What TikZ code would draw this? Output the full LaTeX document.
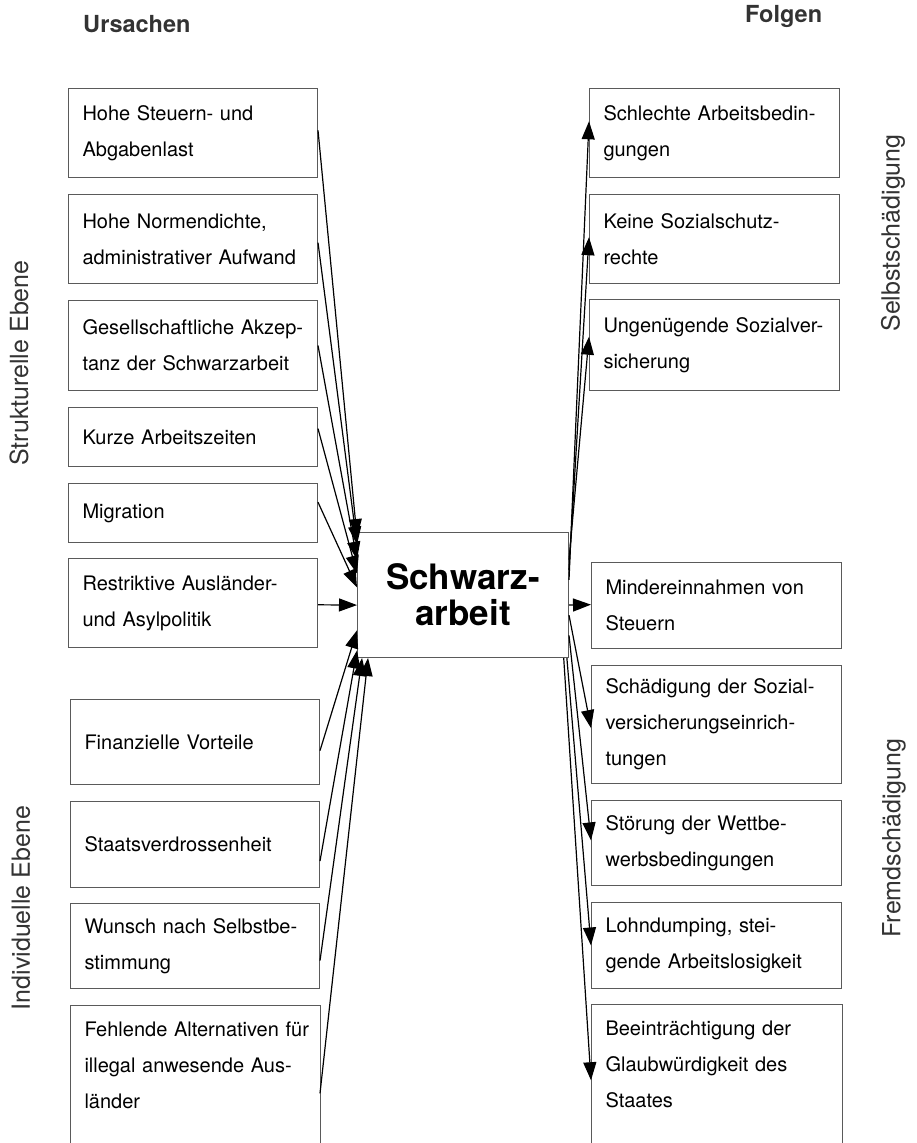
\documentclass[tikz,border=0pt]{standalone}
\usepackage{fontspec}
\setmainfont{TeX Gyre Heros}
\usetikzlibrary{arrows.meta,calc}
\definecolor{boxgray}{HTML}{5A5A5A}
\definecolor{labelgray}{HTML}{333333}
\begin{document}
\begin{tikzpicture}[x=1pt,y=-1pt,
  box/.style={draw=boxgray,line width=1pt,rectangle,anchor=north west,
    inner xsep=14pt,inner ysep=0pt,align=left,
    font=\fontsize{20}{36}\selectfont,text=black},
  lbox/.style={box,text width=221pt,minimum height=#1},
  rbox/.style={box,text width=222pt,minimum height=#1},
  openbox/.style={box,draw=none,text width=#1},
  frame/.style={draw=boxgray,line width=1pt},
  head/.style={font=\fontsize{23.5}{26}\selectfont\bfseries,text=labelgray,inner sep=0pt,anchor=base west},
  side/.style={font=\fontsize{25}{30}\selectfont,text=labelgray,inner sep=0pt,rotate=90},
  arr/.style={line width=1.2pt,-{Triangle[length=18pt,width=13pt]}}
]
\useasboundingbox (0,0) rectangle (917,1143);
\clip (0,0) rectangle (917,1143);

% headings and side labels
\node[head] (urs) at (83,32) {Ursachen};
\node[head] (fol) at (745,22) {Folgen};
\node[side] (strukt) at (19,363) {Strukturelle Ebene};
\node[side] (indiv) at (21,908) {Individuelle Ebene};
\node[side] (selbst) at (893,233) {Selbstschädigung};
\node[side] (fremd) at (894,838) {Fremdschädigung};

% central node
\node[draw=boxgray,line width=1pt,anchor=north west,minimum width=211pt,
  minimum height=125pt,inner sep=0pt,align=center,
  font=\fontsize{35}{36}\selectfont\bfseries] (sa) at (357,532) {Schwarz-\\arbeit};

% causes: structural level
\node[lbox=89pt] (l1) at (68,88) {Hohe Steuern- und\\Abgabenlast};
\node[lbox=89pt] (l2) at (68,194) {Hohe Normendichte,\\administrativer Aufwand};
\node[lbox=90pt] (l3) at (68,300) {Gesellschaftliche Akzep-\\tanz der Schwarzarbeit};
\node[lbox=59pt] (l4) at (68,407) {Kurze Arbeitszeiten};
\node[lbox=59pt] (l5) at (68,483) {Migration};
\node[lbox=89pt] (l6) at (68,558) {Restriktive Ausländer-\\und Asylpolitik};

% causes: individual level
\node[lbox=85pt] (l7) at (70,699) {Finanzielle Vorteile};
\node[lbox=86pt] (l8) at (70,801) {Staatsverdrossenheit};
\node[lbox=85pt] (l9) at (70,903) {Wunsch nach Selbstbe-\\stimmung};
\node[openbox=221pt,minimum height=120pt] (l10) at (70,1005) {\mbox{Fehlende Alternativen für}\\illegal anwesende Aus-\\länder};
\draw[frame] (l10.south west) ++(0,40) |- (l10.north east) -- ++(0,160);

% consequences: self-inflicted damage
\node[rbox=89pt] (r1) at (589,88) {Schlechte Arbeitsbedin-\\gungen};
\node[rbox=89pt] (r2) at (589,194) {Keine Sozialschutz-\\rechte};
\node[rbox=91pt] (r3) at (589,299) {Ungenügende Sozialver-\\sicherung};

% consequences: damage to others
\node[rbox=86pt] (r4) at (591,562) {Mindereinnahmen von\\Steuern};
\node[rbox=118pt] (r5) at (591,665) {Schädigung der Sozial-\\versicherungseinrich-\\tungen};
\node[rbox=85pt] (r6) at (591,800) {Störung der Wettbe-\\werbsbedingungen};
\node[rbox=86pt] (r7) at (591,902) {Lohndumping, stei-\\gende Arbeitslosigkeit};
\node[openbox=222pt,minimum height=120pt] (r8) at (591,1004) {Beeinträchtigung der\\Glaubwürdigkeit des\\Staates};
\draw[frame] (r8.south west) ++(0,40) |- (r8.north east) -- ++(0,160);

% arrows from causes
\draw[arr] ($(l1.north east)!0.47!(l1.south east)$) -- ($(sa.north west)!0.04!(sa.south west)$);
\draw[arr] ($(l2.north east)!0.54!(l2.south east)$) -- ($(sa.north west)!0.10!(sa.south west)$);
\draw[arr] ($(l3.north east)!0.50!(l3.south east)$) -- ($(sa.north west)!0.22!(sa.south west)$);
\draw[arr] ($(l4.north east)!0.36!(l4.south east)$) -- ($(sa.north west)!0.33!(sa.south west)$);
\draw[arr] ($(l5.north east)!0.32!(l5.south east)$) -- ($(sa.north west)!0.44!(sa.south west)$);
\draw[arr] ($(l6.north east)!0.52!(l6.south east)$) -- ($(sa.north west)!0.58!(sa.south west)$);
\draw[arr] ($(l7.north east)!0.60!(l7.south east)$) -- ($(sa.north west)!0.78!(sa.south west)$);
\draw[arr] ($(l8.north east)!0.69!(l8.south east)$) -- ($(sa.north west)!0.94!(sa.south west)$);
\draw[arr] ($(l9.north east)!0.67!(l9.south east)$) -- ($(sa.south west)!0.024!(sa.south east)$);
\draw[arr] ($(l10.north east)!0.73!(l10.south east)$) -- ($(sa.south west)!0.052!(sa.south east)$);

% arrows to consequences
\draw[arr] ($(sa.north east)!0.38!(sa.south east)$) -- ($(r1.north west)!0.37!(r1.south west)$);
\draw[arr] ($(sa.north east)!0.30!(sa.south east)$) -- ($(r2.north west)!0.48!(r2.south west)$);
\draw[arr] ($(sa.north east)!0.22!(sa.south east)$) -- ($(r3.north west)!0.41!(r3.south west)$);
\draw[arr] ($(sa.north east)!0.58!(sa.south east)$) -- ($(r4.north west)!0.49!(r4.south west)$);
\draw[arr] ($(sa.north east)!0.66!(sa.south east)$) -- ($(r5.north west)!0.53!(r5.south west)$);
\draw[arr] ($(sa.north east)!0.82!(sa.south east)$) -- ($(r6.north west)!0.47!(r6.south west)$);
\draw[arr] ($(sa.south east)!0.01!(sa.south west)$) -- ($(r7.north west)!0.50!(r7.south west)$);
\draw[arr] ($(sa.south east)!0.025!(sa.south west)$) -- ($(r8.north west)!0.63!(r8.south west)$);
\end{tikzpicture}
\end{document}
